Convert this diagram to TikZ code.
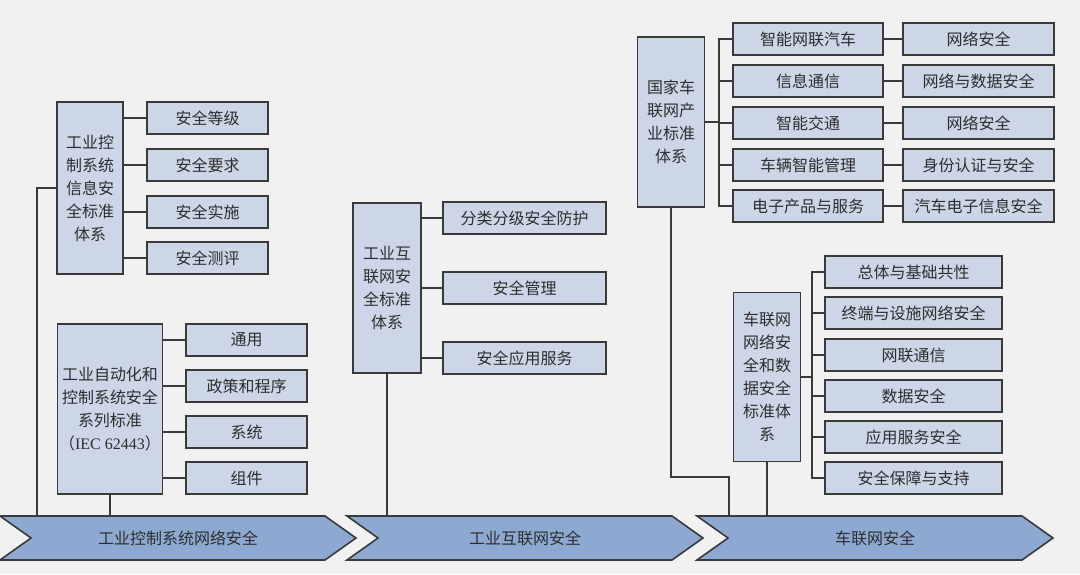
\documentclass[tikz,border=0pt]{standalone}
\usepackage{fontspec}
\newfontfamily\cjk{Noto Sans CJK SC}
\newfontfamily\latinserif{Liberation Serif}
\definecolor{bgC}{HTML}{F2F1F2}
\definecolor{boxC}{HTML}{CCD6E7}
\definecolor{bandC}{HTML}{8DA9D2}
\definecolor{lineC}{HTML}{3A3A3A}
\definecolor{textC}{HTML}{2E2E2E}
\tikzset{
	box/.style={draw=lineC, fill=boxC, line width=1.6pt, inner sep=0pt, align=center,
		text=textC, font=\cjk\fontsize{16}{23}\selectfont},
	leaf/.style={box, minimum height=32pt},
	link/.style={draw=lineC, line width=1.7pt},
	band/.style={draw=lineC, fill=bandC, line width=1.6pt, line join=miter},
	bandtext/.style={text=textC, font=\cjk\fontsize{16}{20}\selectfont}
}

\begin{document}
\begin{tikzpicture}[x=1pt,y=1pt,yscale=-1]
\useasboundingbox[fill=bgC] (0,0) rectangle (1080,574);

% bottom chevrons
\foreach \x/\name/\txt in {0/ch1/工业控制系统网络安全, 347/ch2/工业互联网安全, 697/ch3/车联网安全}{
	\draw[band] (\x,516) -- (\x+325,516) -- (\x+356,538) -- (\x+325,560) -- (\x,560) -- (\x+31,538) -- cycle;
	\node[bandtext] (\name) at (\x+178,538) {\txt};
}
\coordinate (top) at (0,516);

% industrial control
\node[box, minimum width=66pt, minimum height=172pt] (A) at (90,188) {工业控\\制系统\\信息安\\全标准\\体系};
\foreach \y/\i/\txt in {118/1/安全等级, 165/2/安全要求, 212/3/安全实施, 258/4/安全测评}{
	\node[leaf, minimum width=121pt] (a\i) at (207.5,\y) {\txt};
	\draw[link] (a\i.west) -- (a\i.west -| A.east);
}
\coordinate (aleft) at (37,516);
\draw[link] (A.west) -| (aleft);

\node[box, minimum width=105pt, minimum height=170pt] (B) at (110,409) {工业自动化和\\控制系统安全\\系列标准\\（{\latinserif IEC 62443}）};
\foreach \y/\i/\txt in {340/1/通用, 386/2/政策和程序, 432/3/系统, 478/4/组件}{
	\node[leaf, minimum width=121pt] (b\i) at (246.5,\y) {\txt};
	\draw[link] (b\i.west) -- (b\i.west -| B.east);
}
\draw[link] (B.south) -- (B.south |- top);

% industrial internet
\node[box, minimum width=68pt, minimum height=170pt] (C) at (387,288) {工业互\\联网安\\全标准\\体系};
\foreach \y/\i/\txt in {218/1/分类分级安全防护, 288/2/安全管理, 358/3/安全应用服务}{
	\node[leaf, minimum width=163pt] (c\i) at (524.5,\y) {\txt};
	\draw[link] (c\i.west) -- (c\i.west -| C.east);
}
\draw[link] (C.south) -- (C.south |- top);

% internet of vehicles, industry standards
\node[box, minimum width=67pt, minimum height=170pt] (D) at (671,122) {国家车\\联网产\\业标准\\体系};
\foreach \y/\i/\txt/\sub in {39/1/智能网联汽车/网络安全, 81/2/信息通信/网络与数据安全, 123/3/智能交通/网络安全,
	165/4/车辆智能管理/身份认证与安全, 206/5/电子产品与服务/汽车电子信息安全}{
	\node[leaf, minimum width=150pt] (d\i) at (808,\y) {\txt};
	\node[leaf, minimum width=151pt] (r\i) at (978.5,\y) {\sub};
	\draw[link] (d\i.east) -- (r\i.west);
}
\coordinate (dbus) at (719,0);
\draw[link] (d1.west) -| (d5.west -| dbus) -- (d5.west);
\foreach \i in {2,3,4}
	\draw[link] (d\i.west) -- (d\i.west -| dbus);
\draw[link] (D.east) -- (D.east -| dbus);
\coordinate (dturn) at (729,477);
\draw[link] (D.south) |- (dturn) -- (dturn |- top);

% internet of vehicles, security standards
\node[box, minimum width=67pt, minimum height=169pt] (E) at (767,377) {车联网\\网络安\\全和数\\据安全\\标准体\\系};
\foreach \y/\i/\txt in {272/1/总体与基础共性, 313/2/终端与设施网络安全, 355/3/网联通信, 396/4/数据安全,
	437/5/应用服务安全, 478/6/安全保障与支持}
	\node[leaf, minimum width=177pt] (e\i) at (913.5,\y) {\txt};
\coordinate (ebus) at (812,0);
\draw[link] (e1.west) -| (e6.west -| ebus) -- (e6.west);
\foreach \i in {2,...,5}
	\draw[link] (e\i.west) -- (e\i.west -| ebus);
\draw[link] (E.east) -- (E.east -| ebus);
\draw[link] (E.south) -- (E.south |- top);
\end{tikzpicture}
\end{document}
